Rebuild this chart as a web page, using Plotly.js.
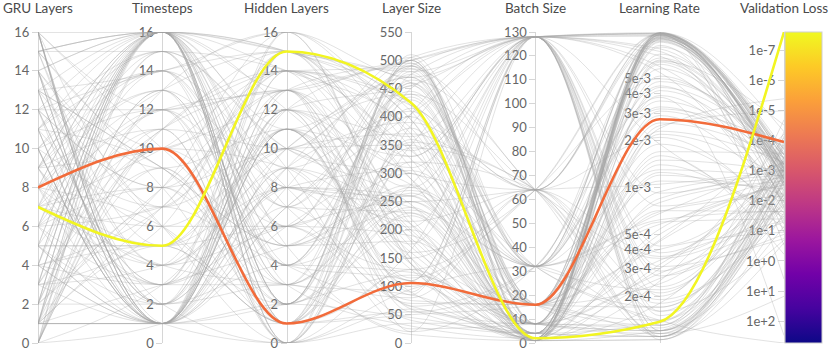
<!DOCTYPE html>
<html>
<head>
<meta charset="utf-8">
<script src="https://cdn.plot.ly/plotly-3.0.1.min.js"></script>
<style>
  html, body { margin: 0; padding: 0; background: #fff; }
  #chart { width: 831px; height: 352px; }
</style>
</head>
<body>
<div id="chart"></div>
<script>
// axis titles, left to right
var axisNames = ["GRU Layers", "Timesteps", "Hidden Layers", "Layer Size", "Batch Size", "Learning Rate", "Validation Loss"];

// grey runs, one value per run in each array
var gruLayers = [16,1,12,0,5,14,3,9,16,7, 1,11,15,2,8,13,4,10,6,1, 16,0,13,5,9,2,14,7,11,3, 16,1,6,12,8,15,4,10,0,13,
  2,9,5,14,1,7,11,3,16,6, 12,0,8,15,4,10,1,13,2,9, 5,16,7,14,3,11,0,6,12,1, 8,15,4,10,2,13,16,5,9,1,
  14,7,0,11,3,12,6,15,8,1, 10,4,13,2,16,9,5,14,7,1,
  3,15,0,9,12,6,1,14,8,16, 4,11,2,13,7,0,10,5,16,1, 9,14,3,12,6,15,1,8,11,4, 16,2,10,7,13,0,5,12,1,9,
  15,3,8,14,6,11,0,16,4,10];
var timesteps = [16,1,8,12,1,4,16,10,2,14, 7,1,16,13,3,9,16,1,11,5, 1,15,6,16,2,12,1,8,14,4, 16,10,1,3,13,16,7,1,11,9,
  2,16,5,1,15,12,6,16,1,8, 14,3,16,10,1,7,13,2,16,4, 11,1,16,9,6,15,1,3,12,16, 5,8,1,14,16,2,10,1,13,7,
  16,4,11,1,9,3,16,15,6,1, 12,16,2,8,1,14,5,16,10,3,
  1,16,9,3,16,12,1,6,16,2, 14,1,8,16,4,11,1,16,7,13, 16,2,10,1,15,5,16,1,9,3, 12,16,1,6,14,16,2,8,1,11,
  4,16,13,1,7,16,10,1,5,15];
var hiddenLayers = [15,2,10,0,14,6,1,12,8,4, 13,9,3,16,11,5,0,7,15,1, 10,14,2,8,12,4,15,1,6,13, 9,0,11,3,15,7,14,2,10,5,
  12,1,8,16,4,13,6,0,11,3, 15,9,2,14,7,10,1,12,5,8, 0,13,4,11,15,3,9,6,14,2, 10,1,12,7,0,15,5,13,8,4,
  11,3,14,9,2,16,6,10,1,12, 7,15,4,13,0,8,11,2,14,5,
  6,13,1,15,9,3,12,0,14,8, 2,11,16,5,10,13,7,1,15,4, 12,0,9,14,3,6,15,11,2,8, 13,5,1,10,16,7,3,14,9,0,
  11,15,4,8,12,2,6,13,1,10];
var layerSize = [480,120,350,60,420,250,500,310,90,455, 200,390,30,470,160,280,510,75,340,230, 440,140,495,260,55,380,180,465,300,20,
  410,95,330,485,210,130,370,45,505,270, 150,450,240,360,80,490,190,320,110,430, 290,60,475,220,400,130,345,500,15,260,
  385,170,460,100,310,240,490,65,425,200, 140,355,275,445,35,395,180,500,250,110, 470,85,325,205,415,150,490,280,50,365,
  230,460,125,300,405,70,185,480,340,260,
  320,495,165,410,25,275,455,130,380,215, 500,85,345,235,470,150,405,55,290,440, 195,360,110,485,265,40,420,175,500,305,
  90,435,250,370,140,490,20,330,210,460, 115,395,280,505,65,225,475,160,350,245];
var batchSize = [128,8,32,2,64,16,1,128,4,32, 16,64,2,128,8,1,32,16,128,4, 64,2,16,128,32,8,1,64,4,128, 2,32,128,16,8,64,1,4,128,32,
  8,128,16,2,64,32,4,1,128,16, 32,4,128,8,16,2,64,128,1,8, 128,16,32,64,2,4,128,8,16,1, 4,64,128,32,8,16,2,128,64,4,
  16,1,8,128,32,2,64,4,16,128, 2,32,8,64,128,16,4,1,32,8,
  64,2,128,16,8,32,128,1,4,64, 8,128,16,32,2,64,128,4,8,16, 1,32,128,64,16,4,2,128,8,32, 128,16,4,64,1,8,32,128,2,16,
  64,4,128,8,32,1,16,64,128,2];
var learningRate = [9.5e-3,1.2e-4,4.5e-3,2.5e-4,8.8e-3,6e-4,1.5e-3,9.8e-3,1.1e-4,3.2e-3,
  7e-4,9.2e-3,1.8e-4,5.5e-3,1.3e-4,2.2e-3,9.9e-3,4e-4,1.05e-4,8e-3,
  3.5e-4,1.2e-3,9.6e-3,1.5e-4,6.5e-3,2.8e-4,9e-3,1.1e-4,2.6e-3,9.7e-3,
  5e-4,1.4e-4,7.5e-3,9.4e-4,3e-4,9.8e-3,1.2e-4,4.2e-3,1.9e-3,6.8e-4,
  9.3e-3,2e-4,1.1e-3,9.9e-3,1.6e-4,3.6e-3,8.5e-4,1.05e-4,6e-3,2.4e-4,
  9.6e-3,4.5e-4,1.3e-4,2.9e-3,9.1e-3,1.7e-3,1.15e-4,7.8e-3,3.2e-4,5.2e-3,
  1.2e-4,9.7e-3,6.2e-4,2.1e-4,8.6e-3,1.4e-3,3.8e-4,9.5e-3,1.1e-4,2.4e-3,
  7.2e-3,1.9e-4,9.8e-3,5.8e-4,1.25e-4,3.9e-3,9.2e-3,2.7e-4,1.05e-3,9.9e-3,
  1.3e-4,6.6e-3,3.4e-4,9.4e-3,2.2e-4,1.6e-3,9.7e-3,1.1e-4,4.8e-3,7.6e-4,
  9e-3,1.7e-4,2.3e-3,9.8e-3,4.2e-4,1.2e-4,8.2e-3,3.1e-3,1.4e-4,9.6e-3,
  1.15e-4,9.4e-3,2.3e-4,6.2e-3,9.9e-3,1.3e-3,1.2e-4,4.4e-3,9.6e-3,3.6e-4,
  8.7e-3,1.6e-4,1.9e-3,9.8e-3,5.4e-4,1.1e-4,7e-3,2.6e-4,9.3e-3,8e-4,
  1.05e-4,3.3e-3,9.7e-3,1.8e-4,5.8e-3,1.25e-3,9.5e-3,2.9e-4,1.15e-4,6.8e-3,
  9.9e-3,4.6e-4,1.35e-4,2.1e-3,8.9e-3,1.2e-4,3.8e-3,9.2e-4,9.6e-3,1.7e-4,
  5e-3,9.8e-3,1.1e-4,7.1e-4,9.1e-3,2.5e-3,1.4e-4,9.7e-3,3.1e-4,6.4e-3];
var valLoss = [2e-3,5e-4,1.2e-2,8e-5,3e-3,4e-2,1e-3,6e-4,2.5e-1,1.5e-4,
  7e-3,3e-4,9e-4,2e-2,5e-5,1.8e-3,4e-4,1.1e-1,2.2e-3,8e-4,
  1.5e-2,6e-3,2.5e-4,1.2e-3,3e-5,5e-2,9e-4,1.6e-3,3.5e-4,4e0,
  2.8e-3,1e-4,6e-2,1.4e-3,7e-4,2e-4,8e-3,1.1e-3,3e-2,5e-4,
  1.3e-3,2e-5,4e-3,9e-3,2e-1,6e-4,1.7e-3,2.5e-2,4.5e-4,1e-3,
  3e-1,1.9e-3,7e-5,1e-2,5e-3,2.6e-4,1.5e1,8e-4,3.5e-3,1.2e-3,
  6e-3,4e-4,2.2e-2,1.4e-4,1.1e-3,8e-2,9e-4,2e-3,5.5e-4,4e-6,
  1.6e-3,3.2e-2,6.5e-4,2.4e-3,1.2e-4,7e-3,3.8e-4,1.3e-2,1e-3,5e-5,
  2.1e-3,9e-4,4.5e-2,3e-4,1.5e-3,6e-1,7.5e-4,4e-3,1.8e-4,1.4e-3,
  1e-3,2.6e-3,5e-4,1.7e-2,8.5e-4,3e-3,1.1e-1,6e-4,5.4e2,1.9e-3,
  9e-4,2.4e-3,3.5e-4,1.1e-2,6e-4,1.5e-3,7e-2,2.8e-4,1.9e-3,5e-3,
  1.2e-3,4e-4,2.5e-2,8e-4,3e-3,1.6e-4,1.4e-3,1.8e-1,6.5e-4,2.2e-3,
  5.2e-3,1e-3,2.9e-4,1.6e-2,7e-4,3.5e-2,1.7e-3,4.5e-4,9.5e-3,1.1e-3,
  2.7e-3,6e-5,1.3e-3,4.2e-2,8.5e-4,2e-3,3e2,5.5e-4,1.5e-2,1.2e-3,
  4e-4,3.3e-3,7.5e-4,2.3e-2,1.8e-3,1e-5,6e-3,9e-4,1.3e-1,2.5e-3];

// the two coloured runs: [gru, timesteps, hidden, layer size, batch, lr, loss]
var orangeRun = [8, 10, 1, 106, 16, 2.75e-3, 1.1e-4];
var yellowRun = [7, 5, 15, 425, 2, 1.37e-4, 2.4e-8];

// tick labels for the two log axes
var lrTicks = [2e-4, 3e-4, 4e-4, 5e-4, 1e-3, 2e-3, 3e-3, 4e-3, 5e-3];
var lrTickText = ["2e-4", "3e-4", "4e-4", "5e-4", "1e-3", "2e-3", "3e-3", "4e-3", "5e-3"];
var lossTicks = [1e-7, 1e-6, 1e-5, 1e-4, 1e-3, 1e-2, 1e-1, 1e0, 1e1, 1e2];
var lossTickText = ["1e-7", "1e-6", "1e-5", "1e-4", "1e-3", "1e-2", "1e-1", "1e+0", "1e+1", "1e+2"];

var axes = [
  {type: "linear", range: [0, 16], dtick: 2},
  {type: "linear", range: [0, 16], dtick: 2},
  {type: "linear", range: [0, 16], dtick: 2},
  {type: "linear", range: [0, 550], dtick: 50},
  {type: "linear", range: [0, 130], dtick: 10},
  {type: "log", range: [-4, -2], tickvals: lrTicks, ticktext: lrTickText},
  {type: "log", range: [2.73, -7.62], tickvals: lossTicks, ticktext: lossTickText},
];

var plasma = [
  [0, "#0d0887"], [0.111, "#46039f"], [0.222, "#7201a8"], [0.333, "#9c179e"], [0.444, "#bd3786"],
  [0.556, "#d8576b"], [0.667, "#ed7953"], [0.778, "#fb9f3a"], [0.889, "#fdca26"], [1, "#f0f921"]
];

function norm(v, k) {
  var a = axes[k];
  var x = a.type === "log" ? Math.log10(v) : v;
  return (x - a.range[0]) / (a.range[1] - a.range[0]);
}

// monotone cubic (like d3.curveMonotoneX), x step = 1
function monoPath(vals) {
  var ys = vals.map((v, k) => norm(v, k));
  var n = ys.length, s = [], t = [];
  for (var i = 0; i < n - 1; i++) s.push(ys[i + 1] - ys[i]);
  for (var i = 1; i < n - 1; i++) {
    var a = s[i - 1], b = s[i];
    t[i] = (Math.sign(a) + Math.sign(b)) * Math.min(Math.abs(a), Math.abs(b), 0.5 * Math.abs((a + b) / 2)) || 0;
  }
  t[0] = (3 * s[0] - t[1]) / 2;
  t[n - 1] = (3 * s[n - 2] - t[n - 2]) / 2;
  var f = (x) => x.toFixed(5);
  var p = "M0," + f(ys[0]);
  for (var i = 0; i < n - 1; i++) {
    p += " C" + f(i + 1 / 3) + "," + f(ys[i] + t[i] / 3) + " " + f(i + 2 / 3) + "," + f(ys[i + 1] - t[i + 1] / 3) + " " + (i + 1) + "," + f(ys[i + 1]);
  }
  return p;
}

var shapes = [];
for (var r = 0; r < gruLayers.length; r++) {
  var run = [gruLayers[r], timesteps[r], hiddenLayers[r], layerSize[r], batchSize[r], learningRate[r], valLoss[r]];
  shapes.push({type: "path", xref: "x", yref: "y", path: monoPath(run),
    line: {color: "rgba(165,165,165,0.32)", width: 1}});
}
shapes.push({type: "path", xref: "x", yref: "y", path: monoPath(orangeRun), line: {color: "#f26b3a", width: 2.6}});
shapes.push({type: "path", xref: "x", yref: "y", path: monoPath(yellowRun), line: {color: "#f2f521", width: 2.6}});

var tickFont = {family: "Lato, 'Noto Sans', sans-serif", size: 13, color: "#666"};

var layout = {
  width: 831, height: 352,
  margin: {l: 38, r: 46, t: 32, b: 9},
  paper_bgcolor: "#fff", plot_bgcolor: "#fff",
  showlegend: false,
  xaxis: {range: [0, 6], visible: false, fixedrange: true},
  yaxis: {range: [0, 1], visible: false, fixedrange: true},
  shapes: shapes,
  annotations: axisNames.map((name, k) => ({
    text: name, xref: "x", yref: "paper", x: k, y: 1, yshift: 24,
    xanchor: "center", yanchor: "middle", showarrow: false,
    font: {family: "Lato, 'Noto Sans', sans-serif", size: 13.5, color: "#4a4a4a"}
  })),
};

var data = [];
axes.forEach((a, k) => {
  var name = "yaxis" + (k + 2);
  var ax = {
    type: a.type, range: a.range, overlaying: "y", anchor: "free", position: k / 6, side: "left",
    showline: true, linecolor: "#d6d6d6", linewidth: 1, ticks: "outside", ticklen: 6, tickcolor: "#d6d6d6",
    showgrid: false, zeroline: false, tickfont: tickFont, fixedrange: true,
  };
  if (a.dtick) { ax.tickmode = "linear"; ax.tick0 = 0; ax.dtick = a.dtick; }
  if (a.tickvals) { ax.tickmode = "array"; ax.tickvals = a.tickvals; ax.ticktext = a.ticktext; }
  layout[name] = ax;
  var lo = a.type === "log" ? Math.pow(10, a.range[0]) : a.range[0];
  var hi = a.type === "log" ? Math.pow(10, a.range[1]) : a.range[1];
  var tr = {x: [k, k], y: [lo, hi], xaxis: "x", yaxis: "y" + (k + 2), type: "scatter", mode: "markers",
    marker: {size: 2, opacity: 0}, hoverinfo: "skip"};
  if (k === 6) {
    // colour bar for validation loss (low loss = yellow at the top)
    tr.marker.color = [-a.range[0], -a.range[1]];
    tr.marker.cmin = -a.range[0];
    tr.marker.cmax = -a.range[1];
    tr.marker.colorscale = plasma;
    tr.marker.showscale = true;
    tr.marker.colorbar = {x: 1, xanchor: "left", xpad: 0, y: 0.5, yanchor: "middle", len: 1, lenmode: "fraction",
      ypad: 0, thickness: 37, thicknessmode: "pixels", showticklabels: false, ticks: "",
      outlinewidth: 1, outlinecolor: "#cfcfcf", borderwidth: 0};
  }
  data.push(tr);
});

Plotly.newPlot("chart", data, layout, {displayModeBar: false, staticPlot: true});
</script>
</body>
</html>
